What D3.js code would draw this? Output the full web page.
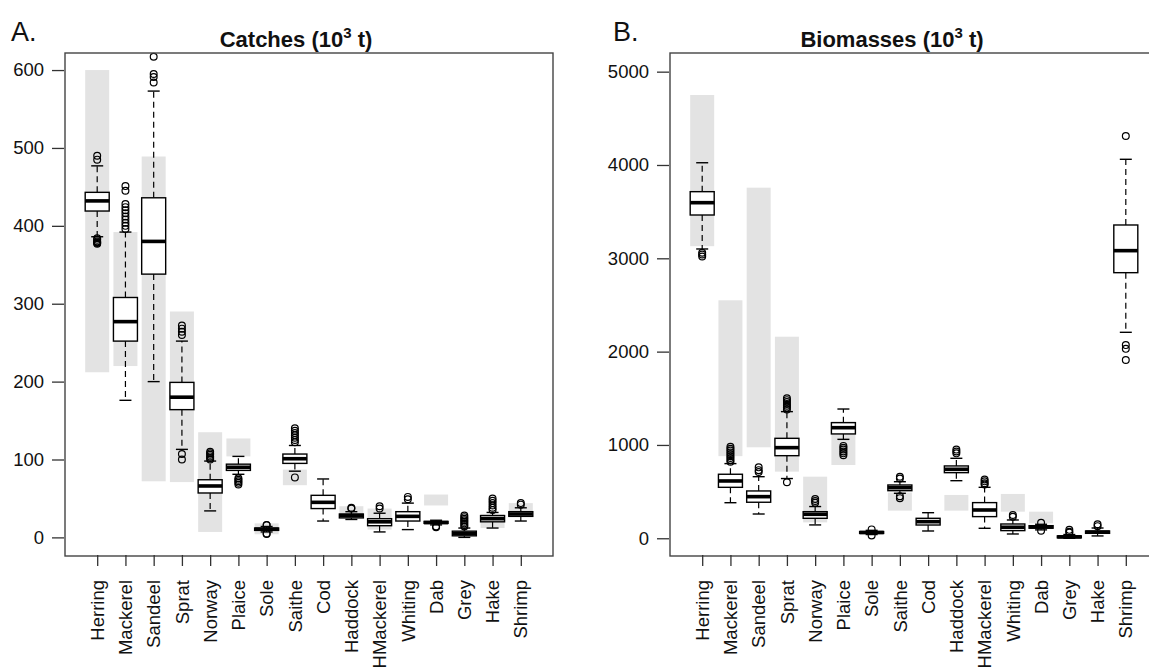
<!DOCTYPE html>
<html>
<head>
<meta charset="utf-8">
<script src="https://d3js.org/d3.v7.min.js"></script>
<style>
 body {margin: 0; background: #fff;}
 svg {display: block; font-family: "Liberation Sans", Arial, sans-serif;}
</style>
</head>
<body>
<div id="chart"></div>
<script>
var species = ["Herring","Mackerel","Sandeel","Sprat","Norway","Plaice","Sole","Saithe",
               "Cod","Haddock","HMackerel","Whiting","Dab","Grey","Hake","Shrimp"];

// Catches (10^3 t): whiskers, quartiles, median, outliers, grey reference band
var catchLo  = [386, 176, 200, 113, 34, 81, 7, 85, 21, 23, 7, 10, 16, 0, 12, 21];
var catchQ1  = [419, 252, 338, 164, 57, 86, 9, 95, 37, 25, 15, 21, 18, 2, 20, 27];
var catchMed = [432, 277, 380, 180, 66, 90, 10.5, 101, 45, 28, 20, 27, 19, 5, 24, 30];
var catchQ3  = [443, 308, 436, 199, 74, 94, 12, 107, 54, 30, 24, 33, 20.5, 8, 28, 33];
var catchHi  = [477, 392, 573, 252, 98, 104, 14, 118, 75, 33, 31, 44, 22, 12, 32, 38];
var catchOut = [[490,485,384,382,380,379,378,377],
                [451,445,428,424,420,416,412,408,404,400,396],
                [617,595,591,584],
                [272,268,264,260,107,100],
                [110,108,106,104,102,100],
                [76,74,72,70,68],
                [16,15.5,5,4.5],
                [140,137,134,131,128,125,122,77],
                [],
                [37,38],
                [40,37],
                [52,49],
                [14,13],
                [28,26,24,22,20,18,16,14],
                [50,47,44,41,38,35],
                [44,42]];
var catchRefLo = [212, 220, 72, 71, 7, 104, 4, 67, null, 28, 10, null, 41, null, 12, 28];
var catchRefHi = [600, 392, 489, 290, 135, 127, 18, 87, null, 40, 37, null, 55, null, 30, 44];
var catchTicks = [0, 100, 200, 300, 400, 500, 600];

// Biomasses (10^3 t)
var bioLo  = [3100, 381, 260, 640, 143, 1060, 40, 482, 78, 617, 107, 46, 90, 0, 25, 2207];
var bioQ1  = [3464, 546, 386, 885, 214, 1118, 52, 510, 142, 703, 232, 82, 108, 5, 53, 2846];
var bioMed = [3596, 614, 446, 971, 257, 1185, 62, 542, 178, 739, 303, 118, 122, 15, 65, 3082];
var bioQ3  = [3714, 686, 507, 1071, 285, 1239, 72, 571, 214, 775, 382, 153, 135, 25, 78, 3357];
var bioHi  = [4024, 800, 660, 1357, 340, 1385, 85, 606, 274, 857, 546, 196, 150, 40, 110, 4061];
var bioOut = [[3060,3040,3020],
              [980,960,940,920,900,880,860,840,820],
              [760,730,710],
              [1500,1480,1460,1440,1420,1400,1380,600],
              [420,400,380],
              [990,970,950,930,910,890],
              [95,30],
              [660,640,450,430],
              [],
              [950,930,910],
              [630,610,590,575],
              [250,230],
              [165,80],
              [90,70,60],
              [150,130],
              [4310,2070,2030,1910]];
var bioRefLo = [3130, 880, 975, 714, 170, 785, null, 296, null, 296, null, 285, 160, null, null, null];
var bioRefHi = [4750, 2550, 3757, 2160, 660, 1250, null, 490, null, 464, null, 475, 285, null, null, null];
var bioTicks = [0, 1000, 2000, 3000, 4000, 5000];

var width = 1149, height = 670;
var svg = d3.select("#chart").append("svg").attr("width", width).attr("height", height);
svg.append("rect").attr("width", width).attr("height", height).attr("fill", "#fff");

function panel(opt) {
  var top = 53, bottom = 556, w = 488;
  var x = d3.scaleLinear().domain([-0.14, species.length + 1.14]).range([opt.left, opt.left + w]);
  var y = d3.scaleLinear().domain(opt.domain).range([bottom, top]);
  var g = svg.append("g");
  var bw = 0.85 * (x(1) - x(0));

  var rows = species.map(function(s, i) {
    return {name: s, i: i + 1, lo: opt.lo[i], q1: opt.q1[i], med: opt.med[i], q3: opt.q3[i],
            hi: opt.hi[i], out: opt.out[i], rlo: opt.refLo[i], rhi: opt.refHi[i]};
  });

  // grey reference bands
  g.selectAll("rect.ref").data(rows.filter(function(d){ return d.rlo !== null; }))
    .enter().append("rect").attr("class", "ref")
    .attr("x", function(d){ return x(d.i) - bw / 2; })
    .attr("width", bw)
    .attr("y", function(d){ return y(d.rhi); })
    .attr("height", function(d){ return y(d.rlo) - y(d.rhi); })
    .attr("fill", "#e3e3e3");

  var b = g.selectAll("g.box").data(rows).enter().append("g").attr("class", "box");
  // whiskers
  b.append("line").attr("x1", function(d){ return x(d.i); }).attr("x2", function(d){ return x(d.i); })
    .attr("y1", function(d){ return y(d.q3); }).attr("y2", function(d){ return y(d.hi); })
    .attr("stroke", "#000").attr("stroke-width", 1.2).attr("stroke-dasharray", "6,4");
  b.append("line").attr("x1", function(d){ return x(d.i); }).attr("x2", function(d){ return x(d.i); })
    .attr("y1", function(d){ return y(d.q1); }).attr("y2", function(d){ return y(d.lo); })
    .attr("stroke", "#000").attr("stroke-width", 1.2).attr("stroke-dasharray", "6,4");
  ["hi", "lo"].forEach(function(k) {
    b.append("line").attr("x1", function(d){ return x(d.i) - bw / 4; }).attr("x2", function(d){ return x(d.i) + bw / 4; })
      .attr("y1", function(d){ return y(d[k]); }).attr("y2", function(d){ return y(d[k]); })
      .attr("stroke", "#000").attr("stroke-width", 1.4);
  });
  // box
  b.append("rect").attr("x", function(d){ return x(d.i) - bw / 2; }).attr("width", bw)
    .attr("y", function(d){ return y(d.q3); })
    .attr("height", function(d){ return Math.max(y(d.q1) - y(d.q3), 0.5); })
    .attr("fill", "#fff").attr("stroke", "#000").attr("stroke-width", 1.4);
  b.append("line").attr("x1", function(d){ return x(d.i) - bw / 2; }).attr("x2", function(d){ return x(d.i) + bw / 2; })
    .attr("y1", function(d){ return y(d.med); }).attr("y2", function(d){ return y(d.med); })
    .attr("stroke", "#000").attr("stroke-width", 3.6);
  // outliers
  b.selectAll("circle").data(function(d){ return d.out.map(function(v){ return {i: d.i, v: v}; }); })
    .enter().append("circle")
    .attr("cx", function(d){ return x(d.i); }).attr("cy", function(d){ return y(d.v); })
    .attr("r", 3.4).attr("fill", "none").attr("stroke", "#000").attr("stroke-width", 1.2);

  // frame
  g.append("rect").attr("x", opt.left).attr("y", top).attr("width", w).attr("height", bottom - top)
    .attr("fill", "none").attr("stroke", "#444").attr("stroke-width", 1.4);

  // y axis
  var ya = g.append("g").attr("transform", "translate(" + (opt.left - 1) + ",0)")
    .call(d3.axisLeft(y).tickValues(opt.ticks).tickSize(12).tickPadding(8).tickFormat(d3.format("d")));
  ya.select(".domain").remove();
  ya.selectAll("line").attr("stroke", "#333").attr("stroke-width", 1.3);
  ya.selectAll("text").attr("font-size", 18.5).attr("fill", "#111")
    .attr("font-family", "'Liberation Sans', Arial, sans-serif");

  // x axis: ticks and rotated labels
  var xa = g.append("g").attr("transform", "translate(0," + (bottom - 1) + ")")
    .call(d3.axisBottom(x).tickValues(d3.range(1, species.length + 1)).tickSize(11).tickFormat(""));
  xa.select(".domain").remove();
  xa.selectAll("line").attr("stroke", "#333").attr("stroke-width", 1.3);
  g.selectAll("text.cat").data(rows).enter().append("text").attr("class", "cat")
    .attr("transform", function(d){ return "translate(" + x(d.i) + ",580) rotate(-90)"; })
    .attr("dy", "0.36em").attr("text-anchor", "end")
    .attr("font-size", 18.5).attr("fill", "#111")
    .text(function(d){ return d.name; });

  // panel letter and title
  svg.append("text").attr("x", opt.letterX).attr("y", 41).attr("font-size", 27).attr("fill", "#111")
    .text(opt.letter);
  var t = svg.append("text").attr("x", opt.titleX).attr("y", 47).attr("text-anchor", "middle")
    .attr("font-size", 22).attr("font-weight", "bold").attr("fill", "#111");
  t.append("tspan").text(opt.title + " (10");
  t.append("tspan").attr("font-size", 15).attr("dy", -9).text("3");
  t.append("tspan").attr("dy", 9).text(" t)");
}

panel({left: 65, domain: [-23.9, 621.9], lo: catchLo, q1: catchQ1, med: catchMed, q3: catchQ3,
       hi: catchHi, out: catchOut, refLo: catchRefLo, refHi: catchRefHi, ticks: catchTicks,
       letter: "A.", letterX: 11, title: "Catches", titleX: 296});
panel({left: 670, domain: [-190, 5200], lo: bioLo, q1: bioQ1, med: bioMed, q3: bioQ3,
       hi: bioHi, out: bioOut, refLo: bioRefLo, refHi: bioRefHi, ticks: bioTicks,
       letter: "B.", letterX: 613, title: "Biomasses", titleX: 892});
</script>
</body>
</html>
